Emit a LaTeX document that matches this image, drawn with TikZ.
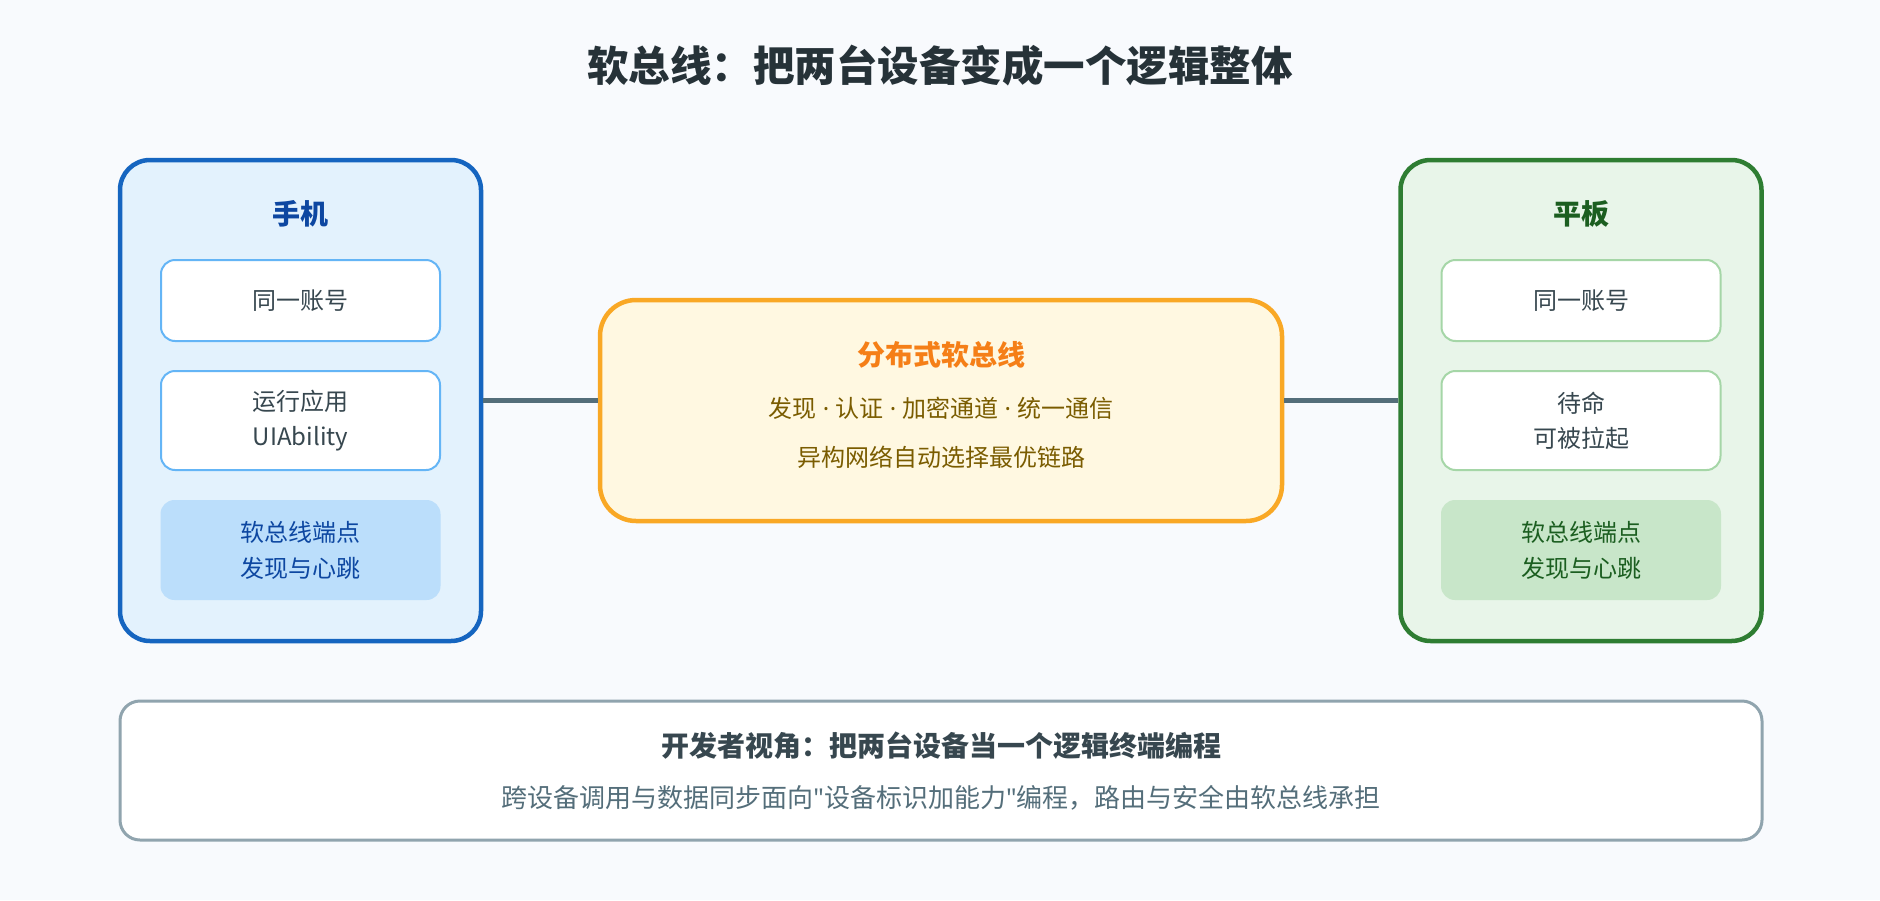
\documentclass[tikz,border=0pt]{standalone}
\usepackage{fontspec}
\setmainfont{Noto Sans CJK SC}
\newfontfamily\latinfont{Noto Sans}
\newcommand{\mdot}{{\latinfont\ ·\ }}
\newcommand{\sq}{{\latinfont"}}
\definecolor{bg}{HTML}{F8FAFD}
\definecolor{titlec}{HTML}{263238}
\definecolor{phoneb}{HTML}{1565C0}
\definecolor{phonef}{HTML}{E3F2FD}
\definecolor{phonet}{HTML}{0D47A1}
\definecolor{phonei}{HTML}{64B5F6}
\definecolor{phonea}{HTML}{BBDEFB}
\definecolor{tabb}{HTML}{2E7D32}
\definecolor{tabf}{HTML}{E8F5E9}
\definecolor{tabt}{HTML}{1B5E20}
\definecolor{tabi}{HTML}{A5D6A7}
\definecolor{taba}{HTML}{C8E6C9}
\definecolor{busb}{HTML}{F9A825}
\definecolor{busf}{HTML}{FFF8E1}
\definecolor{bust}{HTML}{F57F17}
\definecolor{bustext}{HTML}{7A5C00}
\definecolor{conn}{HTML}{546E7A}
\definecolor{botb}{HTML}{90A4AE}
\definecolor{bott}{HTML}{37474F}
\definecolor{bots}{HTML}{546E7A}
\definecolor{textdark}{HTML}{37474F}
\begin{document}
\begin{tikzpicture}[x=1pt,y=-1pt,
  outerbox/.style={draw, line width=4.5pt, rounded corners=30pt, minimum width=361pt, minimum height=481pt, inner sep=0pt},
  innerbox/.style={draw, line width=2pt, rounded corners=14pt, fill=white, minimum width=279pt, inner sep=0pt, text=textdark, font=\fontsize{24}{35}\selectfont, align=center},
  accbox/.style={rounded corners=14pt, minimum width=280pt, minimum height=100pt, inner sep=0pt, font=\fontsize{24}{36}\selectfont, align=center},
  boxtitle/.style={inner sep=0pt, font=\fontsize{28}{34}\selectfont\bfseries},
  bustext/.style={inner sep=0pt, text=bustext, font=\fontsize{24}{30}\selectfont},
  connector/.style={draw=conn, line width=5pt}
]
\useasboundingbox[fill=bg] (0,0) rectangle (1880,900);

\node[inner sep=0pt, text=titlec, font=\fontsize{41.5}{48}\selectfont\bfseries] (title) at (940,66) {软总线：把两台设备变成一个逻辑整体};

% phone
\node[outerbox, draw=phoneb, fill=phonef] (phone) at (300.5,400.5) {};
\node[boxtitle, text=phonet] (phonetitle) at (300.5,214) {手机};
\node[innerbox, draw=phonei, minimum height=81pt] (pacc) at (300.5,300.5) {同一账号};
\node[innerbox, draw=phonei, minimum height=99pt] (papp) at (300.5,420.5) {运行应用\\UIAbility};
\node[accbox, fill=phonea, text=phonet] (pend) at (300.5,550) {软总线端点\\发现与心跳};

% tablet
\node[outerbox, draw=tabb, fill=tabf] (tablet) at (1581,400.5) {};
\node[boxtitle, text=tabt] (tabtitle) at (1581,214) {平板};
\node[innerbox, draw=tabi, minimum height=81pt] (tacc) at (1581,300.5) {同一账号};
\node[innerbox, draw=tabi, minimum height=99pt] (tapp) at (1581,420.5) {待命\\可被拉起};
\node[accbox, fill=taba, text=tabt] (tend) at (1581,550) {软总线端点\\发现与心跳};

% bus
\node[draw=busb, fill=busf, line width=4.5pt, rounded corners=36pt, minimum width=682pt, minimum height=221pt, inner sep=0pt] (bus) at (941,410.5) {};
\node[boxtitle, text=bust] (bustitle) at (941,355) {分布式软总线};
\node[bustext] (bus1) at (941,408) {发现\mdot 认证\mdot 加密通道\mdot 统一通信};
\node[bustext] (bus2) at (941,457) {异构网络自动选择最优链路};

% connectors
\draw[connector] (phone.east) -- (phone.east -| bus.west);
\draw[connector] (tablet.west) -- (tablet.west -| bus.east);

% bottom
\node[draw=botb, fill=white, line width=3pt, rounded corners=20pt, minimum width=1642pt, minimum height=139pt, inner sep=0pt] (dev) at (941,770.5) {};
\node[inner sep=0pt, text=bott, font=\fontsize{28}{32}\selectfont\bfseries] (devtitle) at (941,746) {开发者视角：把两台设备当一个逻辑终端编程};
\node[inner sep=0pt, text=bots, font=\fontsize{26}{32}\selectfont] (devsub) at (941,798) {跨设备调用与数据同步面向\sq 设备标识加能力\sq 编程，路由与安全由软总线承担};
\end{tikzpicture}
\end{document}
